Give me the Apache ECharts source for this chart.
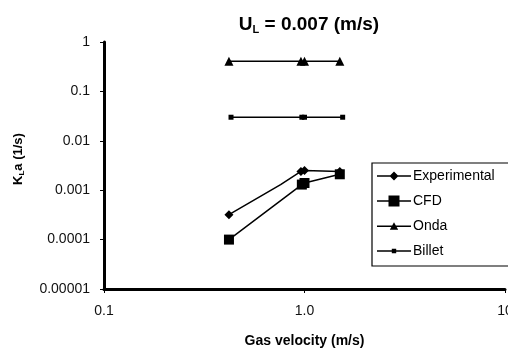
<!DOCTYPE html>
<html>
<head>
<meta charset="utf-8">
<script src="https://cdn.jsdelivr.net/npm/echarts@6/dist/echarts.min.js"></script>
<style>
  html, body { margin: 0; padding: 0; background: #fff; }
  #chart { width: 508px; height: 349px; }
</style>
</head>
<body>
<div id="chart"></div>
<script>
// gas velocity (m/s) and KLa (1/s)
let expX = [0.42, 0.76, 0.96, 1.0, 1.5];
let expY = [0.00032, 0.0013, 0.0024, 0.0025, 0.0024];
let expNoMarker = [1];   // bend in the curve without a marker

let cfdX = [0.42, 0.97, 1.0, 1.5];
let cfdY = [0.0001, 0.0013, 0.0014, 0.0021];

let ondaX = [0.42, 0.96, 1.0, 1.5];
let ondaY = [0.41, 0.41, 0.41, 0.41];

let billetX = [0.43, 0.97, 1.0, 1.55];
let billetY = [0.03, 0.03, 0.03, 0.03];

let seriesNames = ['Experimental', 'CFD', 'Onda', 'Billet'];

function pairs(xs, ys) {
    return xs.map(function (x, i) { return [x, ys[i]]; });
}

function fmtY(v) {
    let e = Math.round(Math.log10(v));
    return e >= 0 ? String(Math.pow(10, e)) : Math.pow(10, e).toFixed(-e);
}

function fmtX(v) {
    let e = Math.round(Math.log10(v));
    if (e === 0) return '1.0';
    return e > 0 ? String(Math.pow(10, e)) : Math.pow(10, e).toFixed(-e);
}

// legend icons: short line with the marker in the middle (34 x 16 box)
let bar = 'M0 7.25 H34 V8.75 H0 Z ';
let icons = {
    Experimental: 'path://' + bar + 'M17 3.5 L21.5 8 L17 12.5 L12.5 8 Z',
    CFD: 'path://' + bar + 'M11.5 2.5 H22.5 V13.5 H11.5 Z',
    Onda: 'path://' + bar + 'M17 4 L21.2 11.5 L12.8 11.5 Z',
    Billet: 'path://' + bar + 'M14.8 5.8 H19.2 V10.2 H14.8 Z'
};

let lineStyle = { color: '#000', width: 1.5 };
let font = 'Liberation Sans, Arial, sans-serif';

let chart = echarts.init(document.getElementById('chart'));

let option = {
    animation: false,
    backgroundColor: '#fff',
    textStyle: { fontFamily: font },
    title: {
        text: '{b|U}{s|L}{b| = 0.007 (m/s)}',
        left: 304,
        textAlign: 'center',
        top: 9,
        textStyle: {
            rich: {
                b: { fontSize: 19, fontWeight: 'bold', color: '#000', fontFamily: font },
                s: { fontSize: 11, fontWeight: 'bold', color: '#000', fontFamily: font, verticalAlign: 'bottom', padding: [10, 0, 0, 0] }
            }
        }
    },
    grid: { left: 104, right: 3, top: 42, bottom: 60, containLabel: false, outerBoundsMode: 'none' },
    legend: {
        orient: 'vertical',
        left: 372,
        top: 163,
        padding: [6, 30, 8, 5],
        itemGap: 11,
        itemWidth: 34,
        itemHeight: 16,
        borderColor: '#000',
        borderWidth: 1.2,
        backgroundColor: '#fff',
        textStyle: { fontSize: 14, color: '#000', fontFamily: font, padding: [0, 0, 0, -3] },
        data: seriesNames.map(function (n) { return { name: n, icon: icons[n] }; })
    },
    xAxis: {
        type: 'log',
        logBase: 10,
        min: 0.1,
        max: 10,
        name: 'Gas velocity (m/s)',
        nameLocation: 'middle',
        nameGap: 45,
        nameTextStyle: { fontSize: 14, fontWeight: 'bold', color: '#000' },
        axisLine: { lineStyle: { color: '#000', width: 3 } },
        axisTick: { show: true, length: 4, lineStyle: { color: '#000', width: 1 } },
        axisLabel: { fontSize: 14, color: '#111', margin: 15, formatter: fmtX },
        splitLine: { show: false },
        minorTick: { show: false }
    },
    yAxis: {
        type: 'log',
        logBase: 10,
        min: 0.00001,
        max: 1,
        name: '{b|K}{s|L}{b|a (1/s)}',
        nameLocation: 'middle',
        nameGap: 78,
        nameRotate: 90,
        nameTextStyle: {
            padding: [0, 0, 0, 13],
            rich: {
                b: { fontSize: 13, fontWeight: 'bold', color: '#000', fontFamily: font },
                s: { fontSize: 8, fontWeight: 'bold', color: '#000', fontFamily: font, verticalAlign: 'bottom', padding: [7, 0, 0, 0] }
            }
        },
        axisLine: { lineStyle: { color: '#000', width: 3 } },
        axisTick: { show: true, length: 4, lineStyle: { color: '#000', width: 1 } },
        axisLabel: { fontSize: 14, color: '#111', margin: 14, formatter: fmtY },
        splitLine: { show: false }
    },
    series: [
        {
            name: 'Experimental',
            type: 'line',
            symbol: 'diamond',
            symbolSize: 9,
            itemStyle: { color: '#000' },
            lineStyle: lineStyle,
            data: pairs(expX, expY).map(function (p, i) {
                return expNoMarker.indexOf(i) >= 0 ? { value: p, symbol: 'none' } : p;
            })
        },
        {
            name: 'CFD',
            type: 'line',
            symbol: 'rect',
            symbolSize: 10,
            itemStyle: { color: '#000' },
            lineStyle: lineStyle,
            data: pairs(cfdX, cfdY)
        },
        {
            name: 'Onda',
            type: 'line',
            symbol: 'triangle',
            symbolSize: 9,
            itemStyle: { color: '#000' },
            lineStyle: lineStyle,
            data: pairs(ondaX, ondaY)
        },
        {
            name: 'Billet',
            type: 'line',
            symbol: 'rect',
            symbolSize: 5,
            itemStyle: { color: '#000' },
            lineStyle: lineStyle,
            data: pairs(billetX, billetY)
        }
    ]
};

chart.setOption(option);
</script>
</body>
</html>
